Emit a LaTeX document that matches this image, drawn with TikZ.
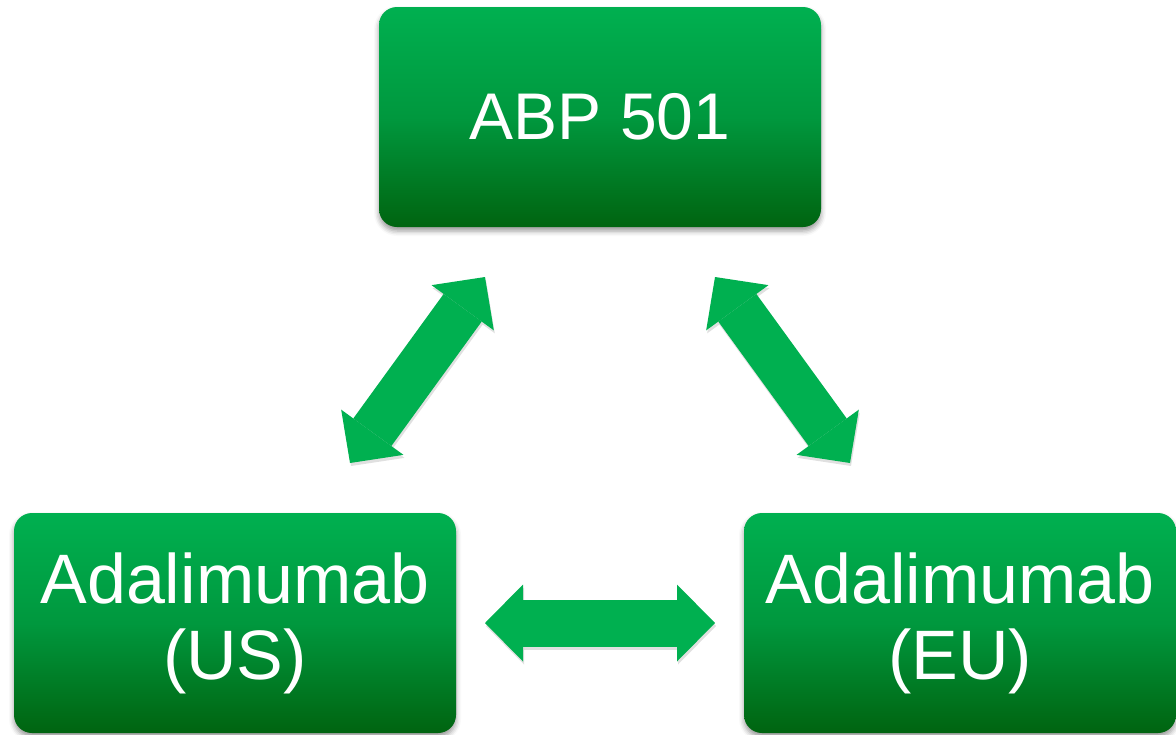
\documentclass[tikz,border=0pt]{standalone}
\usepackage{fontspec}
\setmainfont{Liberation Sans}
\usetikzlibrary{arrows.meta,shadows.blur}
\definecolor{glight}{RGB}{0,176,80}
\definecolor{gmid}{RGB}{0,152,62}
\definecolor{gdark}{RGB}{0,100,16}
\definecolor{arrowgreen}{RGB}{0,176,80}
\pgfdeclareverticalshading{boxshade}{100bp}{color(0bp)=(gdark); color(25bp)=(gdark); color(50bp)=(gmid); color(75bp)=(glight); color(100bp)=(glight)}
\tikzset{
  box/.style={rounded corners=18pt, shading=boxshade, minimum height=220pt,
    inner sep=0pt, text=white,
    blur shadow={shadow xshift=0pt, shadow yshift=-4pt, shadow blur radius=5pt, shadow opacity=40}},
  twoline/.style={align=center, font=\fontsize{70}{76}\selectfont},
  oneline/.style={font=\fontsize{66}{76}\selectfont},
  bigarrow/.style={line width=47pt, draw=arrowgreen,
    arrows={Triangle[length=38pt,width=77pt,line width=0pt]-Triangle[length=38pt,width=77pt,line width=0pt]}},
  arrowshadow/.style={bigarrow, draw=black, opacity=0.12, transform canvas={xshift=1pt,yshift=-3pt}}
}
\begin{document}
\begin{tikzpicture}[x=1pt,y=-1pt]
\useasboundingbox (0,0) rectangle (1176,734);
\node[box, oneline, minimum width=442pt] (top) at (600,117) {ABP 501};
\node[box, twoline, minimum width=442pt] (us) at (235,623) {Adalimumab\\(US)};
\node[box, twoline, minimum width=432pt] (eu) at (960,623) {Adalimumab\\(EU)};
\coordinate (l1) at (350,463); \coordinate (l2) at (485,277);
\coordinate (r1) at (715,277); \coordinate (r2) at (850,463);
\coordinate (h1) at (485,623); \coordinate (h2) at (715,623);
\draw[arrowshadow] (l1) -- (l2);
\draw[arrowshadow] (r1) -- (r2);
\draw[arrowshadow] (h1) -- (h2);
\draw[bigarrow] (l1) -- (l2);
\draw[bigarrow] (r1) -- (r2);
\draw[bigarrow] (h1) -- (h2);
\end{tikzpicture}
\end{document}
